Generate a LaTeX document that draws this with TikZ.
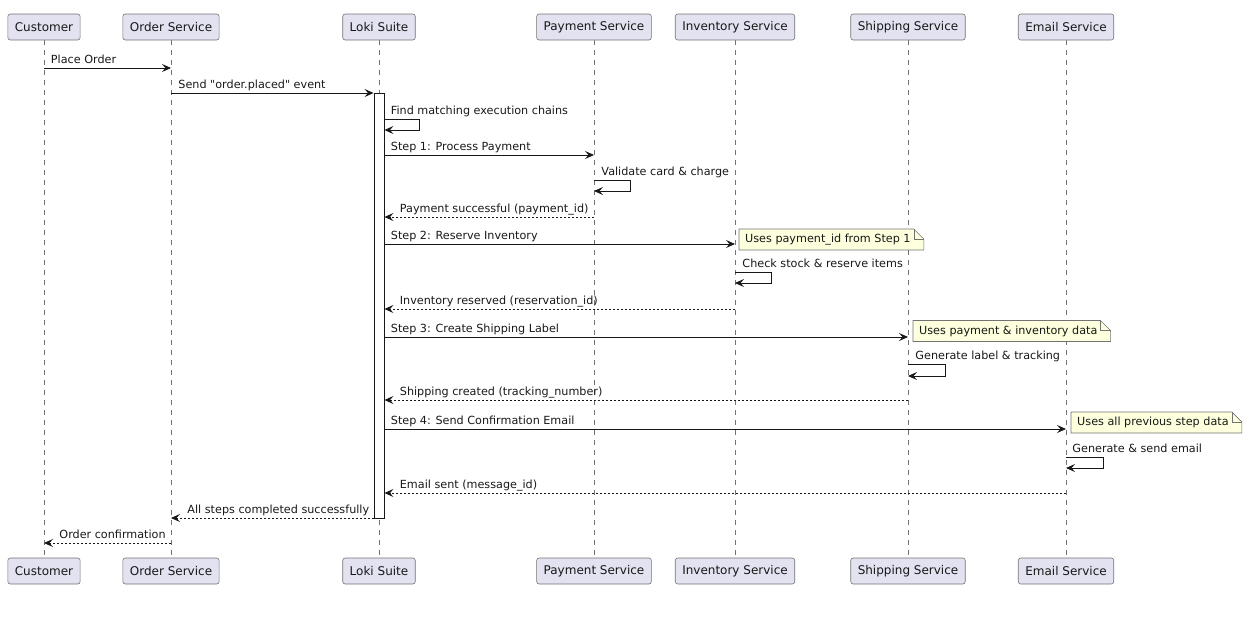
\documentclass[tikz,border=0pt]{standalone}
\usepackage{fontspec}
\setmainfont{DejaVu Sans}[Ligatures=TeXOff]
\usetikzlibrary{arrows.meta,calc,backgrounds}
\definecolor{partfill}{RGB}{226,226,240}
\definecolor{notefill}{RGB}{254,255,221}
\definecolor{inkgray}{RGB}{24,24,24}

\newcommand{\drawnote}[1]{%
\begin{pgfonlayer}{background}
\draw[notebox] ($(#1.west)+(-6,-10.5)$) -- ($(#1.east)+(3,-10.5)$) -- ($(#1.east)+(13,-0.5)$)
  -- ($(#1.east)+(13,10.5)$) -- ($(#1.west)+(-6,10.5)$) -- cycle;
\draw[notebox, fill=none] ($(#1.east)+(3,-10.5)$) |- ($(#1.east)+(13,-0.5)$);
\end{pgfonlayer}}

\begin{document}
\begin{tikzpicture}[x=1pt,y=-1pt]

\tikzstyle{participant} = [draw=black!55, fill=partfill, rounded corners=2.5pt, line width=0.6pt,
minimum height=26pt, inner xsep=7pt, text=inkgray, font=\fontsize{12}{14}\selectfont]
\tikzstyle{lifeline} = [draw=black!55, line width=0.6pt, dash pattern=on 5pt off 5pt]
\tikzstyle{actbar} = [draw=inkgray, fill=white, line width=0.9pt, minimum width=10pt, minimum height=425pt, inner sep=0]
\tikzstyle{msg} = [draw=inkgray, line width=0.9pt, -{Stealth[length=9pt,width=8pt,inset=3.5pt]}]
\tikzstyle{reply} = [msg, dash pattern=on 2pt off 2pt]
\tikzstyle{lbl} = [anchor=base west, inner sep=0, text=inkgray, font=\fontsize{11.2}{13}\selectfont]
\tikzstyle{notetext} = [anchor=west, inner sep=0, text=inkgray, font=\fontsize{11.2}{13}\selectfont]
\tikzstyle{notebox} = [draw=black!55, fill=notefill, line width=0.6pt]

\useasboundingbox (0,0) rectangle (1249,622);

\node [participant] (cusT) at (44,27) {Customer};
\node [participant] (ordT) at (171,27) {Order Service};
\node [participant] (lokT) at (379,27) {Loki Suite};
\node [participant] (payT) at (594,27) {Payment Service};
\node [participant] (invT) at (735,27) {Inventory Service};
\node [participant] (shpT) at (908,27) {Shipping Service};
\node [participant] (emlT) at (1066,27) {Email Service};

\node [participant] (cusB) at (44,571) {Customer};
\node [participant] (ordB) at (171,571) {Order Service};
\node [participant] (lokB) at (379,571) {Loki Suite};
\node [participant] (payB) at (594,571) {Payment Service};
\node [participant] (invB) at (735,571) {Inventory Service};
\node [participant] (shpB) at (908,571) {Shipping Service};
\node [participant] (emlB) at (1066,571) {Email Service};

\begin{pgfonlayer}{background}
\draw[lifeline] (cusT.south) -- (cusB.north);
\draw[lifeline] (ordT.south) -- (ordB.north);
\draw[lifeline] (lokT.south) -- (lokB.north);
\draw[lifeline] (payT.south) -- (payB.north);
\draw[lifeline] (invT.south) -- (invB.north);
\draw[lifeline] (shpT.south) -- (shpB.north);
\draw[lifeline] (emlT.south) -- (emlB.north);
\end{pgfonlayer}

\node [actbar] (act) at (379,305.5) {};

\draw[msg] (cusT |- 0,68) -- node[lbl, pos=0, xshift=6.5pt, yshift=4.5pt] {Place Order} (ordT |- 0,68);
\draw[msg] (ordT |- 0,93) -- node[lbl, pos=0, xshift=7pt, yshift=4.5pt] {Send "order.placed" event} (act.west |- 0,93);

\draw[msg] (act.east |- 0,119) node[lbl, xshift=6pt, yshift=5pt] {Find matching execution chains} -- ++(35,0) |- (act.east |- 0,130);

\draw[msg] (act.east |- 0,155) -- node[lbl, pos=0, xshift=6pt, yshift=4.5pt] {Step 1: Process Payment} (payT |- 0,155);
\draw[msg] (payT |- 0,180) node[lbl, xshift=7pt, yshift=5pt] {Validate card \& charge} -- ++(36,0) |- (payT |- 0,191);
\draw[reply] (payT |- 0,217) -- node[lbl, pos=1, xshift=15pt, yshift=4.5pt] {Payment successful (payment\_id)} (act.east |- 0,217);

\draw[msg] (act.east |- 0,244) -- node[lbl, pos=0, xshift=6pt, yshift=4.5pt] {Step 2: Reserve Inventory} (invT |- 0,244);
\node [notetext] (note1) at (745,239.5) {Uses payment\_id from Step 1};
\drawnote{note1}
\draw[msg] (invT |- 0,272) node[lbl, xshift=7pt, yshift=5pt] {Check stock \& reserve items} -- ++(36,0) |- (invT |- 0,283);
\draw[reply] (invT |- 0,309) -- node[lbl, pos=1, xshift=15pt, yshift=4.5pt] {Inventory reserved (reservation\_id)} (act.east |- 0,309);

\draw[msg] (act.east |- 0,337) -- node[lbl, pos=0, xshift=6pt, yshift=4.5pt] {Step 3: Create Shipping Label} (shpT |- 0,337);
\node [notetext] (note2) at (919,331) {Uses payment \& inventory data};
\drawnote{note2}
\draw[msg] (shpT |- 0,364) node[lbl, xshift=7pt, yshift=5pt] {Generate label \& tracking} -- ++(37,0) |- (shpT |- 0,376);
\draw[reply] (shpT |- 0,400) -- node[lbl, pos=1, xshift=15pt, yshift=4.5pt] {Shipping created (tracking\_number)} (act.east |- 0,400);

\draw[msg] (act.east |- 0,429) -- node[lbl, pos=0, xshift=6pt, yshift=4.5pt] {Step 4: Send Confirmation Email} (emlT |- 0,429);
\node [notetext] (note3) at (1077,422.5) {Uses all previous step data};
\drawnote{note3}
\draw[msg] (emlT |- 0,457) node[lbl, xshift=6pt, yshift=5pt] {Generate \& send email} -- ++(37,0) |- (emlT |- 0,468);
\draw[reply] (emlT |- 0,493) -- node[lbl, pos=1, xshift=15pt, yshift=4.5pt] {Email sent (message\_id)} (act.east |- 0,493);

\draw[reply] (act.west |- 0,518) -- node[lbl, pos=1, xshift=16pt, yshift=4.5pt] {All steps completed successfully} (ordT |- 0,518);
\draw[reply] (ordT |- 0,543) -- node[lbl, pos=1, xshift=15pt, yshift=4.5pt] {Order confirmation} (cusT |- 0,543);

%\draw[reply] (ordT |- 0,543) -- (cusT |- 0,543);

\end{tikzpicture}
\end{document}
